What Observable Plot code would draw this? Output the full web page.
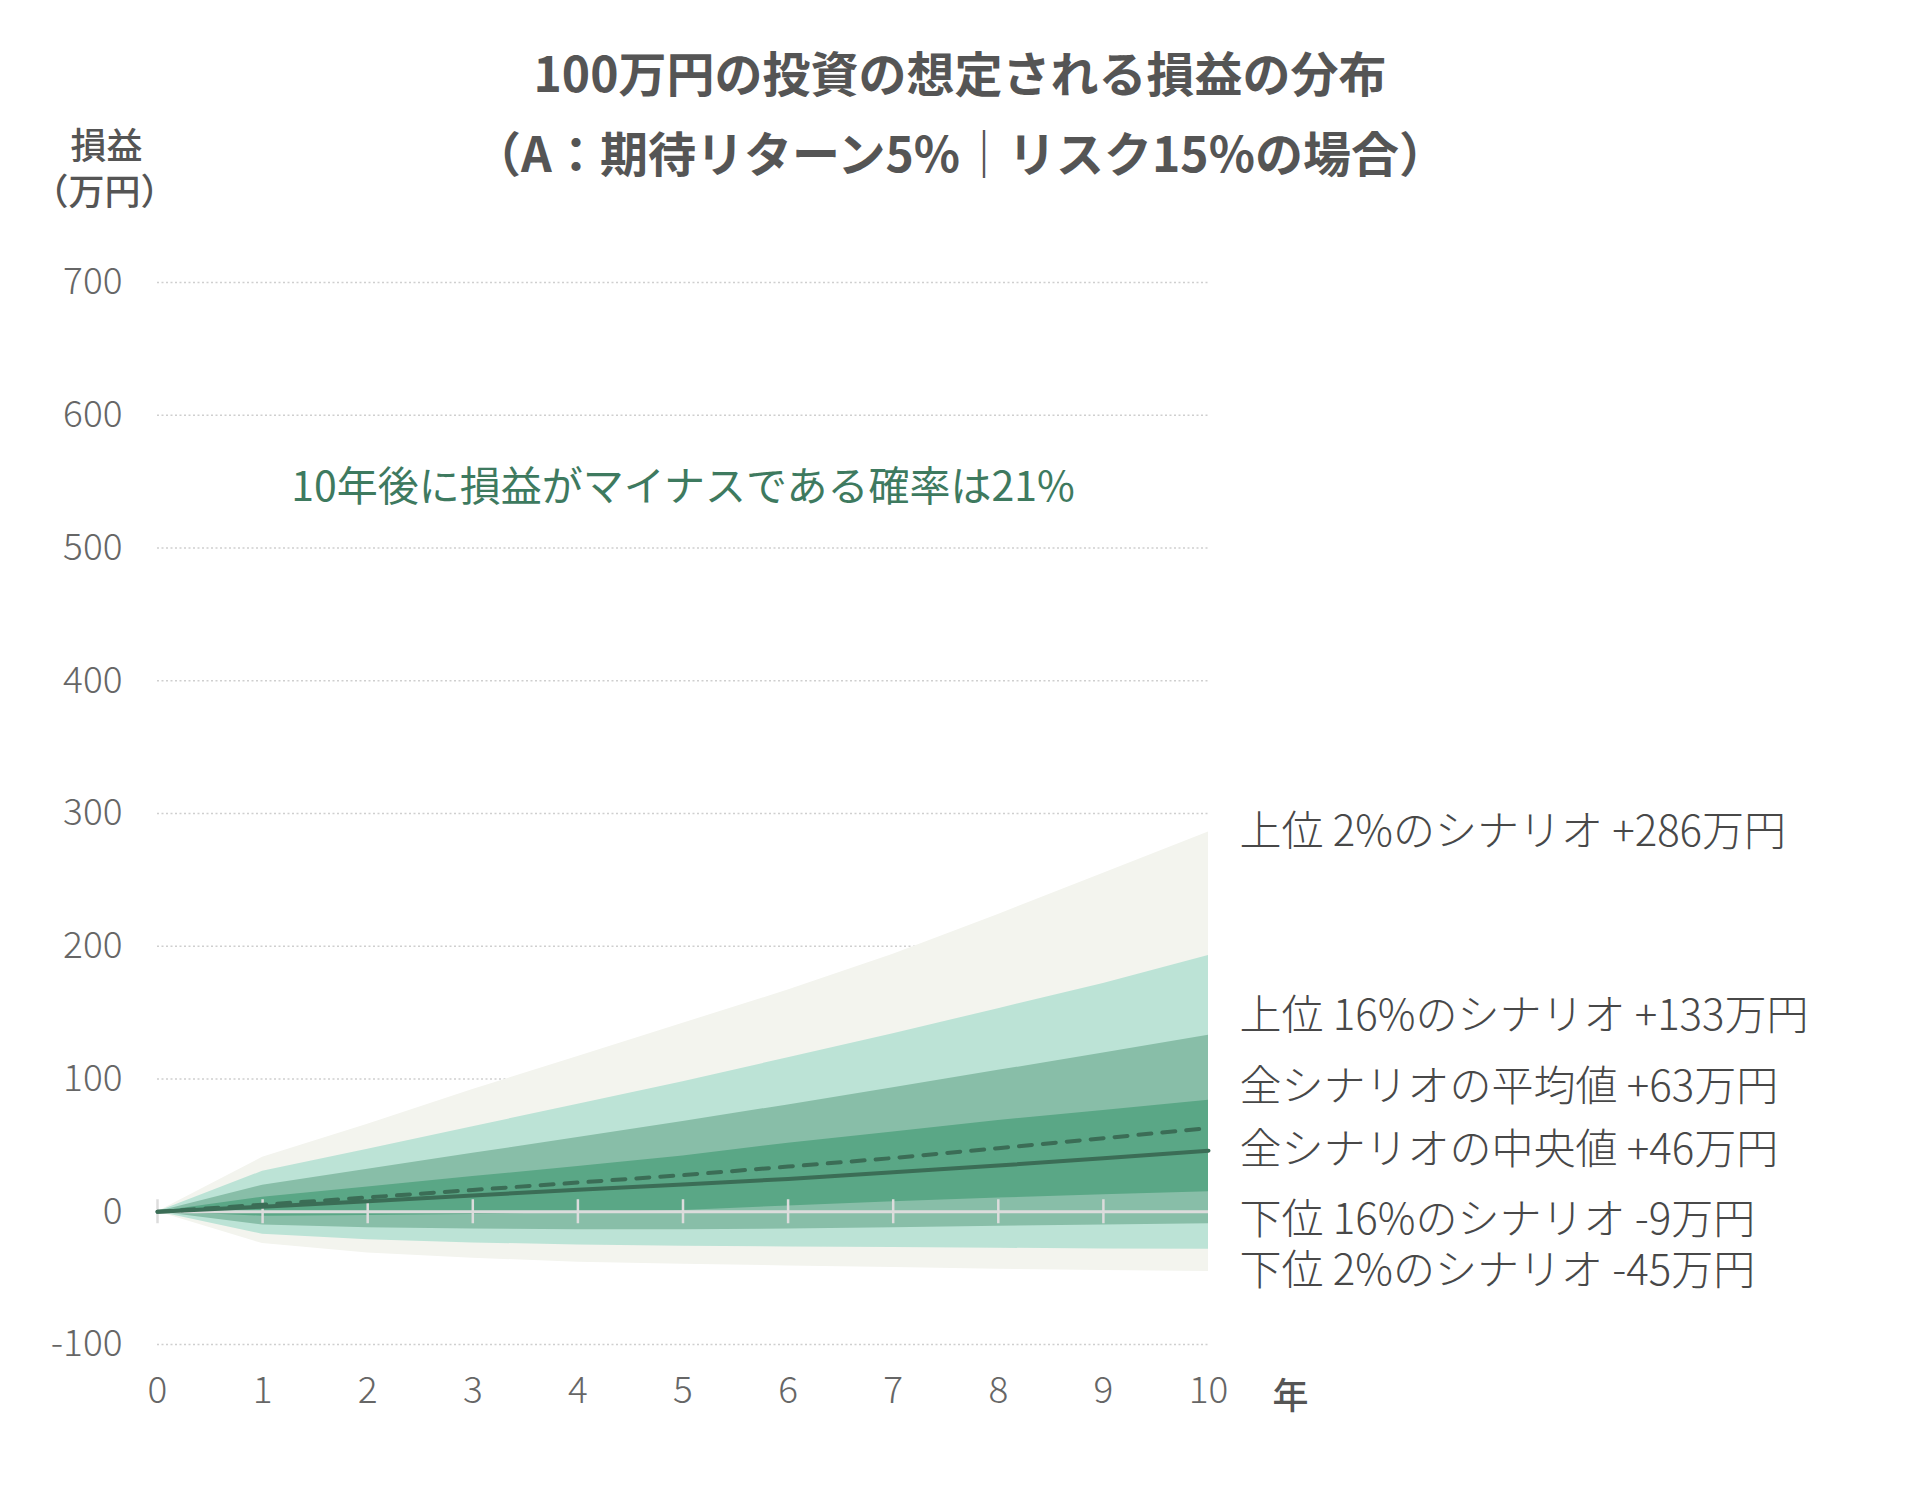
<!DOCTYPE html>
<html>
<head>
<meta charset="utf-8">
<script src="https://cdn.jsdelivr.net/npm/d3@7"></script>
<script src="https://cdn.jsdelivr.net/npm/@observablehq/plot@0.6"></script>
<style>
  body { margin: 0; background: #fff; }
  #wrap { position: relative; width: 1920px; height: 1496px; font-family: "Noto Sans CJK JP", "Noto Sans", sans-serif; }
  #wrap svg { position: absolute; left: 0; top: 0; }
  .t { position: absolute; left: 0; width: 1920px; text-align: center; font-weight: 700; color: #555; font-size: 48px; line-height: 60px; }
</style>
</head>
<body>
<div id="wrap">
  <div class="t" style="top:41px">100万円の投資の想定される損益の分布</div>
  <div class="t" style="top:121px">（A：期待リターン5%｜リスク15%の場合）</div>
</div>
<script>
// ---- data (万円) ----
const years      = [0, 1, 2, 3, 4, 5, 6, 7, 8, 9, 10];
const top2       = [0, 41, 66, 92, 117, 142, 167, 194, 224, 255, 286];   // 上位2%
const top7       = [0, 30.5, 47, 64, 81, 98, 116, 134, 153, 172, 193];  // light band top
const top16      = [0, 20, 32, 44, 56, 68, 80.5, 93.5, 106.5, 119.5, 133]; // 上位16%
const top31      = [0, 11, 18.6, 26.5, 34, 42, 51.6, 60, 68.8, 76.3, 84];  // dark band top
const meanV      = [0, 5.3, 10.8, 16.4, 22, 27.6, 34, 40.5, 47.9, 55.4, 63];
const medianV    = [0, 3.8, 8, 12.3, 16.6, 20.6, 24.7, 29.7, 34.8, 40.3, 46];
const bot31      = [0, -3.3, -2.8, -2, -0.8, 1, 4.3, 7.6, 10.3, 12.8, 15];   // dark band bottom
const bot16      = [0, -10, -12, -13, -13.5, -13.6, -13, -12, -11, -10, -9]; // 下位16%
const bot7       = [0, -17, -21, -23.5, -25, -26, -26.5, -27, -27.5, -28, -28.2];
const bot2       = [0, -24, -31, -35, -38, -39.5, -40.8, -42, -43.3, -44.3, -45]; // 下位2%
const yTicks     = [-100, 0, 100, 200, 300, 400, 500, 600, 700];
const gridTicks  = [-100, 100, 200, 300, 400, 500, 600, 700];
const annotation = "10年後に損益がマイナスである確率は21%";

const last = years.length - 1;
const sign = v => (v > 0 ? "+" : "") + v;
const labels = [
  {text: `上位 2%のシナリオ ${sign(top2[last])}万円`, v: top2[last]},
  {text: `上位 16%のシナリオ ${sign(top16[last])}万円`, v: top16[last]},
  {text: `全シナリオの平均値 ${sign(meanV[last])}万円`, v: meanV[last]},
  {text: `全シナリオの中央値 ${sign(medianV[last])}万円`, v: medianV[last]},
  {text: `下位 16%のシナリオ ${sign(bot16[last])}万円`, v: bot16[last]},
  {text: `下位 2%のシナリオ ${sign(bot2[last])}万円`, v: bot2[last]}
];
const labelShift = [0, -19, -41, 0, -3, 0]; // pixel nudges to avoid overlap

const rows = years.map((yr, i) => ({
  year: yr, top2: top2[i], top7: top7[i], top16: top16[i], top31: top31[i],
  mean: meanV[i], median: medianV[i],
  bot31: bot31[i], bot16: bot16[i], bot7: bot7[i], bot2: bot2[i]
}));

const lineColor = "#3b6d56";
const font = '"Noto Sans CJK JP", "Noto Sans", sans-serif';

const chart = Plot.plot({
  width: 1920,
  height: 1496,
  marginLeft: 157,
  marginRight: 712,
  marginTop: 282,
  marginBottom: 152,
  x: {domain: [0, 10]},
  y: {domain: [-100, 700]},
  style: {fontFamily: font, background: "transparent"},
  marks: [
    Plot.gridY(gridTicks, {stroke: "#cfcfcf", strokeOpacity: 1, strokeWidth: 1.5, strokeDasharray: "2,2.5"}),
    Plot.areaY(rows, {x: "year", y1: "bot2", y2: "top2", fill: "#f3f4ee", curve: "linear"}),
    Plot.areaY(rows, {x: "year", y1: "bot7", y2: "top7", fill: "#bce3d6", curve: "linear"}),
    Plot.areaY(rows, {x: "year", y1: "bot16", y2: "top16", fill: "#88bea8", curve: "linear"}),
    Plot.areaY(rows, {x: "year", y1: "bot31", y2: "top31", fill: "#5aa786", curve: "linear"}),
    Plot.ruleY([0], {stroke: "#dcdcdc", strokeWidth: 3}),
    Plot.ruleX(years.slice(0, last), {x: d => d, y1: () => 0, y2: () => 0, insetTop: -12, insetBottom: -12, stroke: "#dcdcdc", strokeWidth: 2.5}),
    Plot.line(rows, {x: "year", y: "mean", stroke: lineColor, strokeWidth: 4, strokeDasharray: "13,11"}),
    Plot.line(rows, {x: "year", y: "median", stroke: lineColor, strokeWidth: 4}),
    Plot.axisY({ticks: yTicks, tickSize: 0, tickPadding: 35, fontSize: 37, fontWeight: 300, fill: "#666", label: null, tickFormat: d => String(d)}),
    Plot.axisX({ticks: years, tickSize: 0, tickPadding: 32, fontSize: 37, fontWeight: 300, fill: "#666", label: null, tickFormat: d => String(d)}),
    Plot.text([annotation], {text: d => d, frameAnchor: "top", dy: 205, lineAnchor: "middle", textAnchor: "middle", fontSize: 41, fontWeight: 400, fill: "#3e7a5f"}),
    ...labels.map((l, i) => Plot.text([l], {
      text: "text", y: "v", frameAnchor: "right", dx: 31, dy: labelShift[i],
      textAnchor: "start", lineAnchor: "middle", fontSize: 42, fontWeight: 300, fill: "#484848"
    })),
    Plot.text(["損益"], {text: d => d, frameAnchor: "top-left", dx: -51, dy: -135, textAnchor: "middle", lineAnchor: "middle", fontSize: 36, fontWeight: 500, fill: "#555"}),
    Plot.text(["（万円）"], {text: d => d, frameAnchor: "top-left", dx: -53, dy: -89, textAnchor: "middle", lineAnchor: "middle", fontSize: 36, fontWeight: 500, fill: "#555"}),
    Plot.text(["年"], {text: d => d, frameAnchor: "bottom-right", dx: 82, dy: 53, textAnchor: "middle", lineAnchor: "middle", fontSize: 36, fontWeight: 500, fill: "#555"})
  ]
});

const wrap = document.getElementById("wrap");
wrap.insertBefore(chart, wrap.firstChild);
</script>
</body>
</html>
